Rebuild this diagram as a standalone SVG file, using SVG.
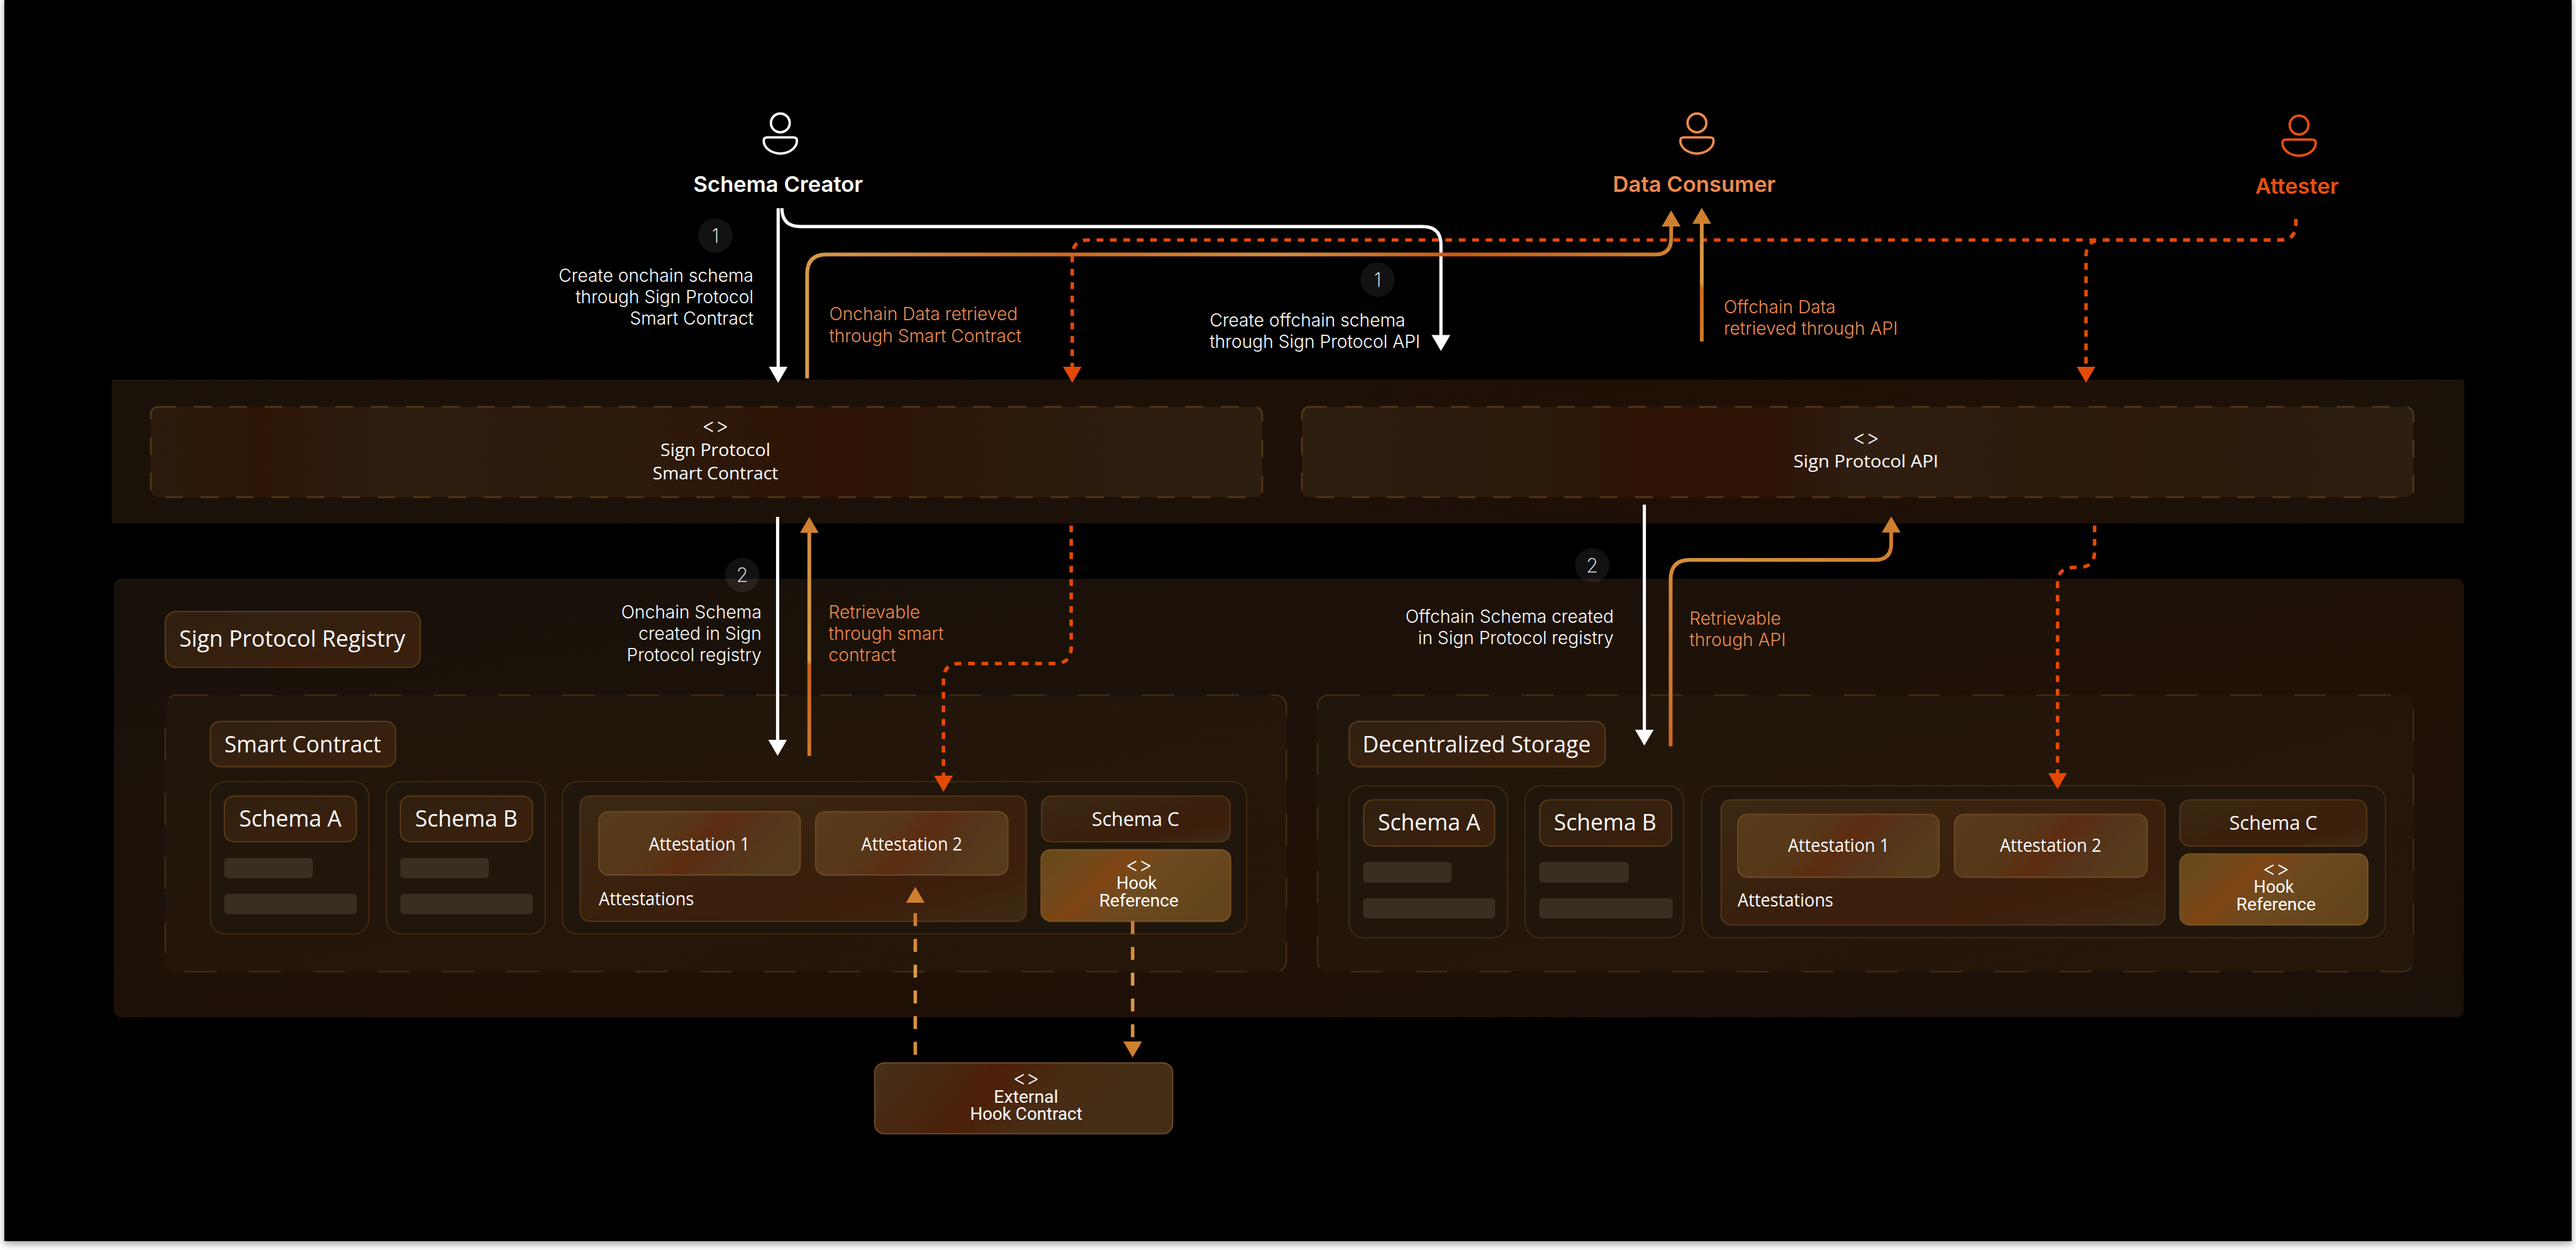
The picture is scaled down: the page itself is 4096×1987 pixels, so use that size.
<svg xmlns="http://www.w3.org/2000/svg" width="4096" height="1987" viewBox="0 0 4096 1987">
<style>
text{font-family:"Inter","Noto Sans",sans-serif;fill:#fff}
.ui{font-size:33px;font-weight:300}
.or{font-size:33px;font-weight:300;fill:#ef8a4d}
.end{text-anchor:end}
.mid{text-anchor:middle}
.who{font-size:40.500px;font-weight:600}
.num{font-size:36px;font-weight:200;text-anchor:middle}
.px{font-family:"Open Sans","Noto Sans",sans-serif;font-weight:400}
.rb{font-family:"Roboto","Noto Sans",sans-serif;font-weight:400}
.l42{font-size:42px}.l36{font-size:36px}.l34{font-size:34px}.l32{font-size:32px}
.tag{font-family:"Inter",sans-serif;font-size:38px;font-weight:300;text-anchor:middle}
.band{stroke:#4f3518;stroke-width:3.5;stroke-dasharray:33 33;fill:url(#gBox)}
.dash{stroke:#3f2a14;stroke-width:3;stroke-dasharray:60 60}
.pan{fill:#20160b;stroke:#42290f;stroke-width:2.5}
.hdr{fill:url(#gHdr);stroke:#5a3a18;stroke-width:2.5}
.bar{fill:#3a2e22}
.inner{fill:url(#gInner);stroke:#52361a;stroke-width:2.5}
.att{fill:url(#gAtt);stroke:#6d4a22;stroke-width:2.5}
.hook{fill:url(#gHook);stroke:#7a5424;stroke-width:2.5}
.ext{fill:url(#gExt);stroke:#6d4a22;stroke-width:2.5}
.badge{fill:#fff;fill-opacity:.07}
.c{fill:none}
.w{stroke:#fff;stroke-width:6;marker-end:url(#aW)}
.go{stroke-width:7}
.d{stroke:#e34a05;stroke-width:6.5;stroke-dasharray:12.5 12.5;marker-end:url(#aR)}
.h{stroke-width:6.5;stroke-dasharray:24 24}
.person{fill:none;stroke-width:4.5}
</style>
<defs>
<filter id="sh" x="-2%" y="-2%" width="104%" height="104%"><feGaussianBlur stdDeviation="7"/></filter>
<linearGradient id="gBox" x1="0" x2="1" y1="0" y2="0"><stop offset="0" stop-color="#2b1b0c"/><stop offset=".1" stop-color="#2e1607"/><stop offset=".22" stop-color="#2d1e10"/><stop offset=".45" stop-color="#2d1a0a"/><stop offset=".62" stop-color="#2e1305"/><stop offset=".8" stop-color="#2d1c0c"/><stop offset="1" stop-color="#2c1e10"/></linearGradient>
<linearGradient id="gBox2" x1="0" x2="1" y1="0" y2="0"><stop offset="0" stop-color="#2c1e10"/><stop offset=".22" stop-color="#2c1a0a"/><stop offset=".33" stop-color="#2f1204"/><stop offset=".42" stop-color="#2e1305"/><stop offset=".5" stop-color="#2e1e10"/><stop offset=".75" stop-color="#2d1a0a"/><stop offset="1" stop-color="#2c1e10"/></linearGradient>
<linearGradient id="gBand" x1="0" x2="1" y1="0" y2="0"><stop offset="0" stop-color="#1a1209"/><stop offset=".5" stop-color="#1c1007"/><stop offset=".7" stop-color="#1f0f05"/><stop offset="1" stop-color="#1a1209"/></linearGradient>
<linearGradient id="gReg" x1="0" x2="1" y1="0" y2="1"><stop offset="0" stop-color="#17110a"/><stop offset=".45" stop-color="#1d1108"/><stop offset=".6" stop-color="#201006"/><stop offset="1" stop-color="#19110a"/></linearGradient>
<linearGradient id="gDash" x1="0" x2="1" y1="0" y2="1"><stop offset="0" stop-color="#1f160b"/><stop offset=".6" stop-color="#25150a"/><stop offset="1" stop-color="#241608"/></linearGradient>
<linearGradient id="gHdr" x1="0" x2="1" y1="0" y2="1"><stop offset="0" stop-color="#30200f"/><stop offset=".55" stop-color="#36200e"/><stop offset=".8" stop-color="#3a1f0c"/><stop offset="1" stop-color="#33220f"/></linearGradient>
<linearGradient id="gInner" x1="0" x2="1" y1="0" y2="1"><stop offset="0" stop-color="#3a2812"/><stop offset=".5" stop-color="#39200d"/><stop offset=".75" stop-color="#3c1e0b"/><stop offset="1" stop-color="#3c2a14"/></linearGradient>
<linearGradient id="gAtt" x1="0" x2="1" y1="0" y2=".3"><stop offset="0" stop-color="#573c1d"/><stop offset=".42" stop-color="#573718"/><stop offset=".6" stop-color="#5c2c10"/><stop offset=".8" stop-color="#55341a"/><stop offset="1" stop-color="#573c1c"/></linearGradient>
<linearGradient id="gHook" x1="0" x2="1" y1="0" y2=".4"><stop offset="0" stop-color="#664719"/><stop offset=".22" stop-color="#6f4a1c"/><stop offset=".42" stop-color="#7f4514"/><stop offset=".62" stop-color="#6e4a20"/><stop offset="1" stop-color="#64441c"/></linearGradient>
<linearGradient id="gExt" x1="0" x2="1" y1="0" y2=".2"><stop offset="0" stop-color="#463019"/><stop offset=".3" stop-color="#4a2610"/><stop offset=".42" stop-color="#4c1f08"/><stop offset=".65" stop-color="#482c14"/><stop offset="1" stop-color="#442e16"/></linearGradient>
<linearGradient id="gOH" gradientUnits="userSpaceOnUse" x1="1500" x2="3120" y1="0" y2="0"><stop offset="0" stop-color="#d49a48"/><stop offset=".3" stop-color="#cf6a1f"/><stop offset=".55" stop-color="#d58b3c"/><stop offset=".75" stop-color="#cc5a14"/><stop offset="1" stop-color="#cf8030"/></linearGradient>
<linearGradient id="gOV" gradientUnits="userSpaceOnUse" x1="0" x2="0" y1="960" y2="1410"><stop offset="0" stop-color="#cf8a38"/><stop offset=".6" stop-color="#d69a48"/><stop offset=".62" stop-color="#cb5f1a"/><stop offset="1" stop-color="#cf7a2c"/></linearGradient>
<linearGradient id="gOV2" gradientUnits="userSpaceOnUse" x1="0" x2="0" y1="385" y2="640"><stop offset="0" stop-color="#cf8a38"/><stop offset=".55" stop-color="#d69a48"/><stop offset=".6" stop-color="#cb6a20"/><stop offset="1" stop-color="#cf7a2c"/></linearGradient>
<linearGradient id="gOV3" gradientUnits="userSpaceOnUse" x1="3113" x2="3530" y1="1390" y2="960"><stop offset="0" stop-color="#cf6a20"/><stop offset=".5" stop-color="#d4923f"/><stop offset="1" stop-color="#cf7a2c"/></linearGradient>
<linearGradient id="gH" gradientUnits="userSpaceOnUse" x1="0" x2="0" y1="1650" y2="1980"><stop offset="0" stop-color="#cc6a20"/><stop offset=".5" stop-color="#dc9a48"/><stop offset="1" stop-color="#d08a38"/></linearGradient>
<marker id="aW" markerUnits="userSpaceOnUse" markerWidth="32" markerHeight="36" refX="1" refY="18" orient="auto"><path d="M0 .5L30 18L0 35.5Z" fill="#fff"/></marker>
<marker id="aR" markerUnits="userSpaceOnUse" markerWidth="32" markerHeight="36" refX="1" refY="18" orient="auto"><path d="M0 .5L30 18L0 35.5Z" fill="#e34a05"/></marker>
<marker id="aG" markerUnits="userSpaceOnUse" markerWidth="32" markerHeight="36" refX="1" refY="18" orient="auto"><path d="M0 .5L30 18L0 35.5Z" fill="#cf7f30"/></marker>
<g id="person"><circle r="17.5"/><path d="M-24 27H24Q31 27 31 33C31 47 16 57 0 57C-16 57-31 47-31 33Q-31 27-24 27Z"/></g>
</defs>

<rect width="4096" height="1987" fill="#fff"/>
<rect x="8" y="0" width="4784" height="2318" fill="#000" fill-opacity=".35" filter="url(#sh)" transform="scale(.853333)"/>
<g transform="scale(.853333)">
<rect x="8" y="0" width="4784" height="2312" fill="#000"/>

<rect id="api-band" x="208" y="707" width="4384" height="268" fill="url(#gBand)"/>
<rect id="registry-bg" x="212" y="1078" width="4379" height="817" rx="14" fill="url(#gReg)"/>

<g id="node-sign-contract"><rect class="band" x="281" y="758" width="2071" height="168" rx="14"/>
<text class="tag" x="1333" y="806">&lt;&gt;</text><text class="px l32 mid" x="1333" y="850" textLength="205" lengthAdjust="spacingAndGlyphs">Sign Protocol</text><text class="px l32 mid" x="1333" y="893" textLength="234" lengthAdjust="spacingAndGlyphs">Smart Contract</text></g>
<g id="node-sign-api"><rect class="band" style="fill:url(#gBox2)" x="2426" y="758" width="2071" height="168" rx="14"/>
<text class="tag" x="3477" y="828">&lt;&gt;</text><text class="px l32 mid" x="3477" y="871" textLength="270" lengthAdjust="spacingAndGlyphs">Sign Protocol API</text></g>

<g id="node-registry-label"><rect class="hdr" x="308" y="1139" width="475" height="104" rx="20"/><text class="px l42" x="334" y="1205" textLength="421" lengthAdjust="spacingAndGlyphs">Sign Protocol Registry</text></g>

<g id="node-smart-contract">
<rect class="dash" fill="url(#gDash)" x="308" y="1295" width="2089" height="515" rx="20"/>
<rect class="hdr" x="392" y="1344" width="345" height="84" rx="18"/><text class="px l42" x="418" y="1402" textLength="292" lengthAdjust="spacingAndGlyphs">Smart Contract</text>
</g>
<g id="node-sc-schema-a"><rect class="pan" x="392" y="1456" width="295" height="284" rx="28"/><rect class="hdr" x="418" y="1483" width="246" height="85" rx="18"/><text class="px l42 mid" x="541" y="1540" textLength="191" lengthAdjust="spacingAndGlyphs">Schema A</text><rect class="bar" x="418" y="1598" width="165" height="38" rx="7"/><rect class="bar" x="418" y="1665" width="247" height="38" rx="7"/></g>
<g id="node-sc-schema-b"><rect class="pan" x="720" y="1456" width="296" height="284" rx="28"/><rect class="hdr" x="746" y="1483" width="246" height="85" rx="18"/><text class="px l42 mid" x="869" y="1540" textLength="191" lengthAdjust="spacingAndGlyphs">Schema B</text><rect class="bar" x="746" y="1598" width="165" height="38" rx="7"/><rect class="bar" x="746" y="1665" width="247" height="38" rx="7"/></g>
<g id="node-sc-attestations"><rect class="pan" x="1048" y="1456" width="1275" height="284" rx="28"/><rect class="inner" x="1081" y="1483" width="831" height="233" rx="18"/>
<rect class="att" x="1116" y="1512" width="375" height="118" rx="18"/><text class="px l34 mid" x="1303" y="1584" textLength="188" lengthAdjust="spacingAndGlyphs">Attestation 1</text>
<rect class="att" x="1520" y="1512" width="358" height="118" rx="18"/><text class="px l34 mid" x="1699" y="1584" textLength="188" lengthAdjust="spacingAndGlyphs">Attestation 2</text>
<text class="px l34" x="1116" y="1686" textLength="177" lengthAdjust="spacingAndGlyphs">Attestations</text>
<rect class="inner" x="1941" y="1483" width="351" height="85" rx="18"/><text class="px l36 mid" x="2116" y="1539" textLength="163" lengthAdjust="spacingAndGlyphs">Schema C</text>
<rect class="hook" x="1940" y="1583" width="353" height="133" rx="18"/><text class="tag" x="2122" y="1624">&lt;&gt;</text><text class="rb l32 mid" x="2118" y="1656" textLength="75" lengthAdjust="spacingAndGlyphs">Hook</text><text class="rb l32 mid" x="2122" y="1689" textLength="148" lengthAdjust="spacingAndGlyphs">Reference</text></g>

<g id="node-decentralized">
<rect class="dash" fill="url(#gDash)" x="2455" y="1295" width="2042" height="515" rx="20"/>
<rect class="hdr" x="2514" y="1344" width="477" height="84" rx="18"/><text class="px l42" x="2539" y="1401" textLength="425" lengthAdjust="spacingAndGlyphs">Decentralized Storage</text>
</g>
<g id="node-ds-schema-a"><rect class="pan" x="2514" y="1464" width="295" height="283" rx="28"/><rect class="hdr" x="2541" y="1490" width="244" height="86" rx="18"/><text class="px l42 mid" x="2663" y="1547" textLength="191" lengthAdjust="spacingAndGlyphs">Schema A</text><rect class="bar" x="2540" y="1606" width="165" height="38" rx="7"/><rect class="bar" x="2540" y="1673" width="246" height="38" rx="7"/></g>
<g id="node-ds-schema-b"><rect class="pan" x="2842" y="1464" width="295" height="283" rx="28"/><rect class="hdr" x="2869" y="1490" width="246" height="86" rx="18"/><text class="px l42 mid" x="2991" y="1547" textLength="191" lengthAdjust="spacingAndGlyphs">Schema B</text><rect class="bar" x="2868" y="1606" width="167" height="38" rx="7"/><rect class="bar" x="2868" y="1673" width="249" height="38" rx="7"/></g>
<g id="node-ds-attestations"><rect class="pan" x="3171" y="1464" width="1274" height="283" rx="28"/><rect class="inner" x="3207" y="1490" width="827" height="233" rx="18"/>
<rect class="att" x="3238" y="1517" width="375" height="117" rx="18"/><text class="px l34 mid" x="3426" y="1587" textLength="189" lengthAdjust="spacingAndGlyphs">Attestation 1</text>
<rect class="att" x="3642" y="1517" width="359" height="117" rx="18"/><text class="px l34 mid" x="3821" y="1587" textLength="189" lengthAdjust="spacingAndGlyphs">Attestation 2</text>
<text class="px l34" x="3238" y="1689" textLength="178" lengthAdjust="spacingAndGlyphs">Attestations</text>
<rect class="inner" x="4062" y="1490" width="348" height="86" rx="18"/><text class="px l36 mid" x="4236" y="1546" textLength="164" lengthAdjust="spacingAndGlyphs">Schema C</text>
<rect class="hook" x="4062" y="1591" width="350" height="132" rx="18"/><text class="tag" x="4241" y="1631">&lt;&gt;</text><text class="rb l32 mid" x="4237" y="1663" textLength="75" lengthAdjust="spacingAndGlyphs">Hook</text><text class="rb l32 mid" x="4241" y="1696" textLength="148" lengthAdjust="spacingAndGlyphs">Reference</text></g>

<g id="node-external"><rect class="ext" x="1630" y="1980" width="555" height="132" rx="18"/><text class="tag" x="1912" y="2022">&lt;&gt;</text><text class="rb l32 mid" x="1912" y="2054" textLength="120" lengthAdjust="spacingAndGlyphs">External</text><text class="rb l32 mid" x="1912" y="2086" textLength="209" lengthAdjust="spacingAndGlyphs">Hook Contract</text></g>

<g id="node-schema-creator"><use href="#person" x="1454" y="229" class="person" stroke="#fff"/><text class="who mid" x="1450" y="357">Schema Creator</text></g>
<g id="node-data-consumer"><use href="#person" x="3162" y="229" class="person" stroke="#ef8a4d"/><text class="who mid" x="3157" y="357" style="fill:#ef8a4d">Data Consumer</text></g>
<g id="node-attester"><use href="#person" x="4284" y="233" class="person" stroke="#e8500f"/><text class="who mid" x="4280" y="361" style="fill:#e8500f">Attester</text></g>

<g id="connectors">
<path class="c d" d="M4278 408V418Q4278 447 4249 447H2028Q1998 447 1998 477V684"/>
<path class="c d" d="M4278 408V418Q4278 447 4249 447H3917Q3887 447 3887 477V684"/>
<path class="c d" d="M1996 979V1206Q1996 1236 1966 1236H1788Q1758 1236 1758 1266V1446"/>
<path class="c d" d="M3903 979V1027Q3903 1057 3873 1057H3864Q3834 1057 3834 1087V1441"/>
<path class="c w" d="M1450 388V684"/>
<path class="c w" d="M1457 388Q1457 422 1491 422H2651Q2685 422 2685 456V625"/>
<path class="c go" stroke="url(#gOH)" marker-end="url(#aG)" d="M1504 705V510Q1504 474 1540 474H3084Q3114 474 3114 444V421"/>
<path class="c go" stroke="url(#gOV2)" marker-end="url(#aG)" d="M3171 636V416"/>
<path class="c w" d="M1449 963V1379"/>
<path class="c go" stroke="url(#gOV)" marker-end="url(#aG)" d="M1508 1408V992"/>
<path class="c w" d="M3064 940V1360"/>
<path class="c go" stroke="url(#gOV3)" marker-end="url(#aG)" d="M3113 1390V1079Q3113 1043 3149 1043H3494Q3524 1043 3524 1013V991"/>
<path class="c h" stroke="url(#gH)" marker-end="url(#aG)" d="M1705.500 1965V1681"/>
<path class="c h" stroke="url(#gH)" marker-end="url(#aG)" d="M2110.500 1716V1941"/>
</g>

<g id="labels">
<circle class="badge" cx="1333" cy="439" r="32"/><text class="num" x="1333" y="452">1</text>
<text class="ui end" x="1404" y="525">Create onchain schema</text><text class="ui end" x="1404" y="565">through Sign Protocol</text><text class="ui end" x="1404" y="605">Smart Contract</text>
<text class="or" x="1545" y="596">Onchain Data retrieved</text><text class="or" x="1545" y="637">through Smart Contract</text>
<circle class="badge" cx="2567" cy="521" r="32"/><text class="num" x="2567" y="534">1</text>
<text class="ui" x="2254" y="608">Create offchain schema</text><text class="ui" x="2254" y="648">through Sign Protocol API</text>
<text class="or" x="3212" y="584">Offchain Data</text><text class="or" x="3212" y="624">retrieved through API</text>
<circle class="badge" cx="1383" cy="1071" r="32"/><text class="num" x="1383" y="1084">2</text>
<text class="ui end" x="1419" y="1152">Onchain Schema</text><text class="ui end" x="1419" y="1192">created in Sign</text><text class="ui end" x="1419" y="1232">Protocol registry</text>
<text class="or" x="1544" y="1152">Retrievable</text><text class="or" x="1544" y="1192">through smart</text><text class="or" x="1544" y="1232">contract</text>
<circle class="badge" cx="2967" cy="1053" r="32"/><text class="num" x="2967" y="1066">2</text>
<text class="ui end" x="3007" y="1160">Offchain Schema created</text><text class="ui end" x="3007" y="1200">in Sign Protocol registry</text>
<text class="or" x="3148" y="1164">Retrievable</text><text class="or" x="3148" y="1204">through API</text>
</g>
</g>
</svg>
